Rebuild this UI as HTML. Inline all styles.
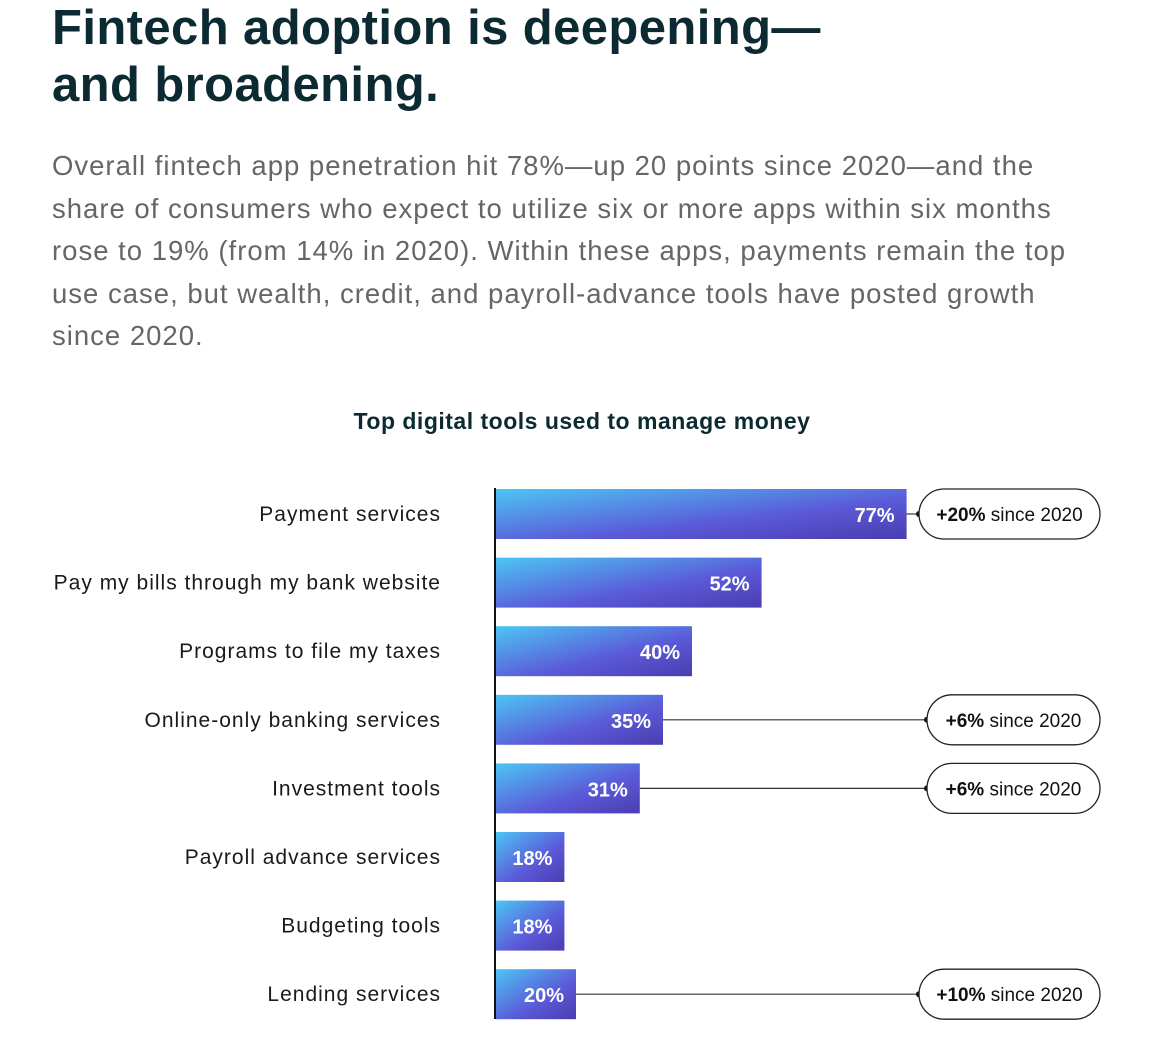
<!DOCTYPE html>
<html><head><meta charset="utf-8"><style>
body{margin:0;width:1164px;height:1040px;background:#fff;font-family:"Liberation Sans",sans-serif;overflow:hidden;position:relative}
h1{position:absolute;left:52px;top:0;margin:0;font-size:49px;line-height:57px;color:#0c2a32;font-weight:bold;letter-spacing:0.4px;white-space:nowrap}
p{position:absolute;left:52px;top:145px;margin:0;font-size:27.5px;line-height:42.5px;color:#666;white-space:nowrap;letter-spacing:1.0px}
#ct{position:absolute;left:0;top:408px;width:1164px;text-align:center;font-size:23px;font-weight:bold;color:#0c2a32;letter-spacing:0.5px}
svg{position:absolute;left:0;top:0}
</style></head><body>
<h1>Fintech adoption is deepening—<br>and broadening.</h1>
<p>Overall fintech app penetration hit 78%—up 20 points since 2020—and the<br>share of consumers who expect to utilize six or more apps within six months<br>rose to 19% (from 14% in 2020). Within these apps, payments remain the top<br>use case, but wealth, credit, and payroll-advance tools have posted growth<br>since 2020.</p>
<div id="ct">Top digital tools used to manage money</div>
<svg id="chart" width="1164" height="1040">
<defs><linearGradient id="g" x1="0" y1="0" x2="1" y2="1"><stop offset="0" stop-color="#4cc6f5"/><stop offset="0.6" stop-color="#5b5ad8"/><stop offset="1" stop-color="#4a3db0"/></linearGradient></defs>
</svg>
<script>
const categories=["Payment services","Pay my bills through my bank website","Programs to file my taxes","Online-only banking services","Investment tools","Payroll advance services","Budgeting tools","Lending services"];
const values=[77,52,40,35,31,18,18,20];
const changes=["+20%",null,null,"+6%","+6%",null,null,"+10%"];
const svg=document.getElementById('chart');
const NS="http://www.w3.org/2000/svg";
const x0=495;
function xs(v){return x0+Math.max(40,5.8*v-35);}
function ys(i){return 489+i*68.6;}
const bh=50;
function mk(t,a){const e=document.createElementNS(NS,t);for(const k in a)e.setAttribute(k,a[k]);svg.appendChild(e);return e;}
categories.forEach((c,i)=>{
 const y=ys(i),xe=xs(values[i]);
 const r=mk('rect',{x:x0,y:y,width:xe-x0,height:bh,fill:'url(#g)'});
 
 
 const l=mk('text',{x:441,y:y+bh/2+7,'text-anchor':'end','font-size':21,'letter-spacing':1.0,fill:'#1a1a1a'});
 l.textContent=c;
 
 
 const v=mk('text',{x:xe-12,y:y+bh/2+8,'text-anchor':'end','font-size':20,'font-weight':'bold',fill:'#fff'});
 v.textContent=values[i]+'%';
 
 
 if(changes[i]){
  const px=(i===0||i===7)?919:927;
  const ln=mk('line',{x1:xe,y1:y+bh/2,x2:px,y2:y+bh/2,stroke:'#333','stroke-width':1.2});
  
  
  mk('circle',{cx:px,cy:y+bh/2,r:3,fill:'#111'});
  const pr=mk('rect',{x:px,y:y+bh/2-25,width:1100-px,height:50,rx:25,fill:'#fff',stroke:'#222','stroke-width':1.3});
  
  
  const t=mk('text',{x:(px+1100)/2,y:y+bh/2+7,'text-anchor':'middle','font-size':19,fill:'#111'});
  t.innerHTML='<tspan font-weight="bold">'+changes[i]+'</tspan> since 2020';
  
  
 }
});
const ax=mk('line',{x1:x0,y1:488,x2:x0,y2:1019,stroke:'#111','stroke-width':2});


</script>
</body></html>
